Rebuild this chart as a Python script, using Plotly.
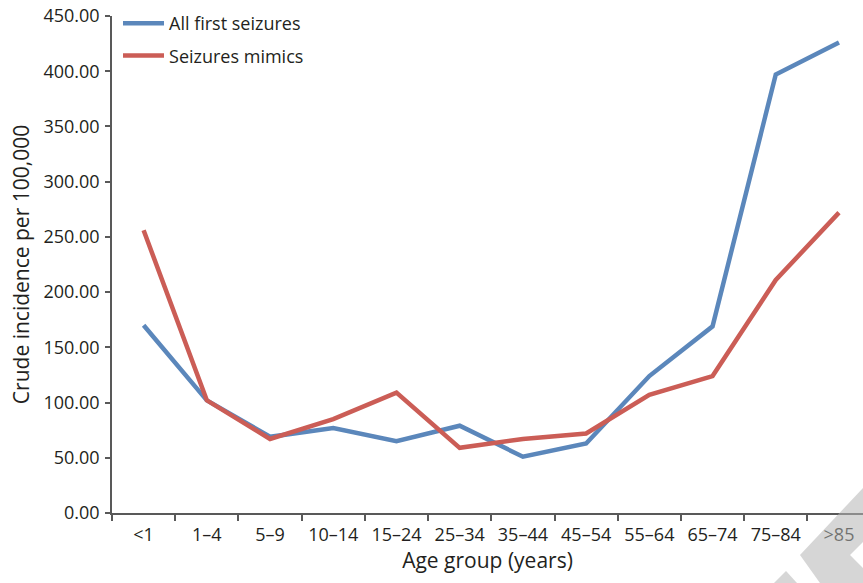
import plotly.graph_objects as go

categories = ["<1", "1–4", "5–9", "10–14", "15–24", "25–34", "35–44", "45–54",
              "55–64", "65–74", "75–84", ">85"]
all_first_seizures = [170, 102, 69, 77, 65, 79, 51, 63, 124, 169, 397, 426]
seizure_mimics = [256, 102, 67, 85, 109, 59, 67, 72, 107, 124, 211, 272]

W, H = 863, 583
ML, MR, MT, MB = 112, 0, 16, 70
PW, PH = W - ML - MR, H - MT - MB

def px(x):
    return (x - ML) / PW

def py(y):
    return (H - MB - y) / PH

fig = go.Figure()
fig.add_trace(go.Scatter(x=categories, y=all_first_seizures, mode="lines",
                         name="All first seizures", legendgroup="a",
                         line=dict(color="#5b87bb", width=4.5)))
fig.add_trace(go.Scatter(x=categories, y=seizure_mimics, mode="lines",
                         name="Seizures mimics", legendgroup="b",
                         line=dict(color="#cb5d56", width=4.5)))

font_color = "#231f20"
fig.update_layout(
    width=W, height=H,
    margin=dict(l=ML, r=MR, t=MT, b=MB, autoexpand=False),
    paper_bgcolor="white", plot_bgcolor="white",
    font=dict(family="Open Sans", size=18, color=font_color),
    showlegend=True,
    legend=dict(x=0.008, y=py(5), xanchor="left", yanchor="top",
                bgcolor="rgba(0,0,0,0)", font=dict(size=18), itemwidth=41,
                traceorder="grouped", tracegroupgap=6),
    xaxis=dict(type="category", range=[-0.5, 11.38], showgrid=False, automargin=False,
               showline=True, linecolor="#595959", linewidth=1.5,
               ticks="outside", tickson="boundaries", ticklen=6, ticklabelstandoff=5,
               tickcolor="#595959", tickwidth=1.5, ticklabeloverflow="allow",
               title=dict(text="Age group (years)", font=dict(size=21), standoff=8)),
    yaxis=dict(range=[0, 450], dtick=50, tickformat=".2f", showgrid=False, automargin=False,
               zeroline=False, showline=True, linecolor="#595959", linewidth=1.5,
               ticks="outside", ticklen=5, tickcolor="#595959", tickwidth=1.5,
               ticklabelstandoff=2, ticklabeloverflow="allow",
               title=dict(text="Crude incidence per 100,000", font=dict(size=21), standoff=8)),
)

# watermark shapes in the bottom-right corner (pixel coordinates)
def path(points):
    return "M " + " L ".join(f"{px(x):.4f},{py(y):.4f}" for x, y in points) + " Z"

wm = dict(type="path", xref="paper", yref="paper", layer="above",
          fillcolor="rgb(180,180,180)", opacity=0.55, line=dict(width=0))
fig.add_shape(path=path([(800, 555), (863, 488), (863, 542), (850, 555),
                         (863, 568), (863, 583), (820, 583)]), **wm)
fig.add_shape(path=path([(774, 583), (786, 571), (797, 583)]), **wm)

fig.write_html("out.html", config={"displayModeBar": False},
               post_script="document.body.style.margin='0px';")
